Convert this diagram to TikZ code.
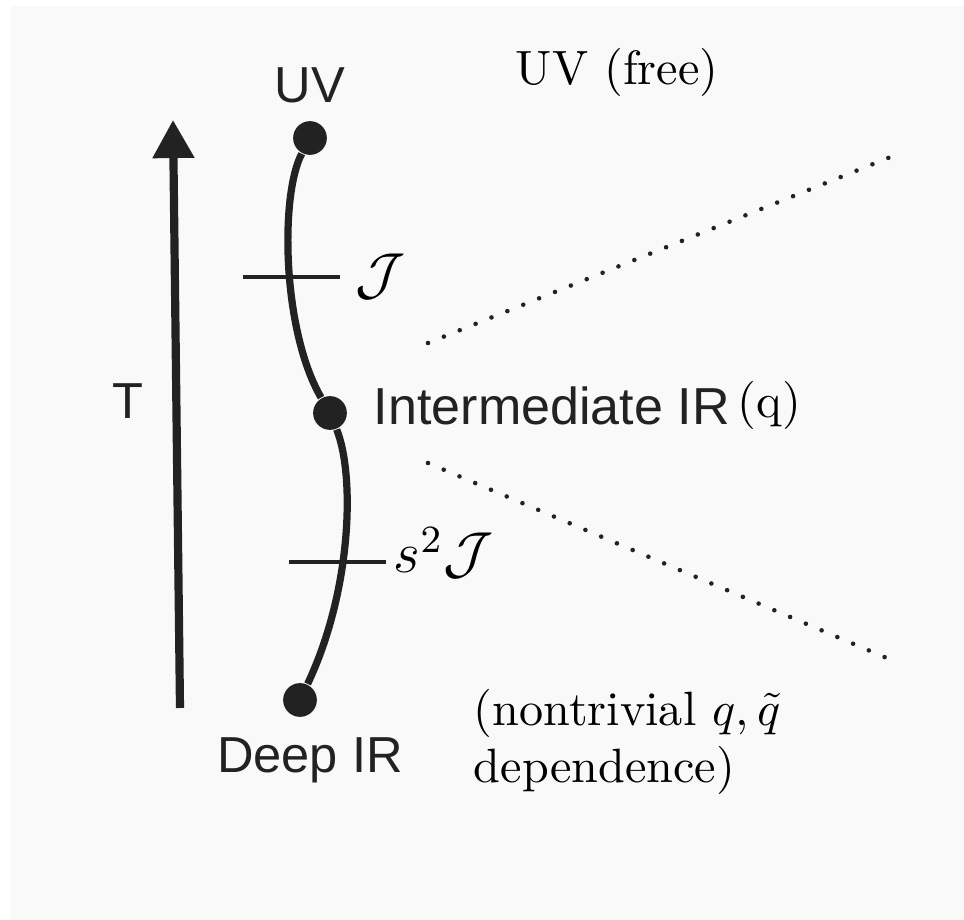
\documentclass[tikz,border=0pt]{standalone}
\usepackage{fontspec}
\usepackage{xcolor}
\newfontfamily\helv{Liberation Sans}
\usetikzlibrary{arrows.meta,positioning}
\definecolor{pgink}{HTML}{222222}
\definecolor{pgback}{HTML}{F9F9F9}
\tikzset{
  fp/.style   = {circle, fill=pgink, inner sep=0pt, minimum size=7pt},
  lab/.style  = {font=\helv\fontsize{10.5}{12}\selectfont, text=pgink, inner sep=0pt},
  txt/.style  = {inner sep=0pt, align=left},
  cpl/.style  = {inner sep=0pt, font=\large},
  flow/.style = {draw=pgink, line width=1.5pt},
  cut/.style  = {draw=pgink, line width=0.7pt},
  temp/.style = {-{Triangle[length=7.9pt,width=8.3pt]}, draw=pgink, line width=1.7pt},
  cone/.style = {draw=pgink, line width=0.95pt, line cap=round, dash pattern=on 0pt off 3.55pt},
}

\begin{document}
\begin{tikzpicture}[x=0.2075pt,y=-0.2075pt]
  \fill[white] (0,0) rectangle (964,920);
  \useasboundingbox (0,0) rectangle (964,920);
  \fill[pgback] (11,6) rectangle (964,920);
  % fixed points of the flow
  \node[fp] (uv)   at (310,138) {};
  \node[fp] (mid)  at (330,413) {};
  \node[fp] (deep) at (300,700) {};
  \node[lab, anchor=base]      (uvlab)   at (310,103) {UV};
  \node[lab, anchor=base]      (deeplab) at (310,773) {Deep IR};
  \node[lab, anchor=base west, font=\helv\fontsize{10.8}{12}\selectfont] (midlab) at (373,425) {Intermediate IR};
  \node[lab, anchor=base]      (tlab)    at (128,419) {T};
  % temperature axis
  \coordinate (tlow)  at (180,708);
  \coordinate (thigh) at (173,120);
  \draw[temp] (tlow) -- (thigh);
  % flow curve
  \draw[flow] (uv) .. controls (280,195) and (282,330) .. (mid);
  \draw[flow] (mid) .. controls (355,475) and (352,590) .. (deep);
  % couplings
  \node[cpl, anchor=base west] (jlab)  at (355,294) {$\mathcal{J}$};
  \node[cpl, anchor=base west] (s2lab) at (393,573) {$s^2\mathcal{J}$};
  \coordinate (jt)  at (243,277);
  \coordinate (s2t) at (289,562);
  \draw[cut] (jt) -- (jt -| 340,0);
  \draw[cut] (s2t) -- (s2t -| 386,0);
  % cone
  \coordinate (c1) at (428,343);
  \coordinate (c2) at (893,156);
  \coordinate (c3) at (428,463);
  \coordinate (c4) at (889,659);
  \draw[cone] (c1) -- (c2);
  \draw[cone] (c3) -- (c4);
  % regimes
  \node[txt, anchor=base west]  (free)    at (515,85)  {UV (free)};
  \node[txt, anchor=base west]  (qlab)    at (737,418) {(q)};
  \node[txt, anchor=north west] (nontriv) at (473,688) {(nontrivial $q,\tilde{q}$\\dependence)};
\end{tikzpicture}
\end{document}
